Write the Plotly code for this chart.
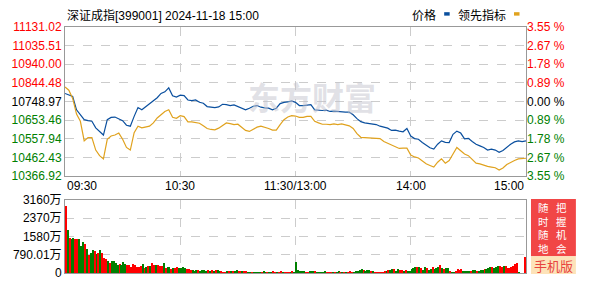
import plotly.graph_objects as go

# ---------------- data ----------------
minutes = list(range(0, 241, 2))  # minutes since 09:30 (trading minutes)

price = [
    10790.6, 10782.2, 10775.0, 10706.8, 10681.6, 10656.5, 10651.5, 10648.1, 10614.6, 10597.8,
    10577.7, 10656.5, 10668.2, 10669.9, 10661.5, 10651.5, 10628.0, 10623.0, 10673.3, 10718.5,
    10706.8, 10723.5, 10735.3, 10752.0, 10768.8, 10790.6, 10799.0, 10819.1, 10778.8, 10772.1,
    10782.2, 10780.0,
    10757.1, 10753.7, 10757.1, 10745.3, 10740.3, 10723.5, 10721.9, 10718.5, 10721.9, 10735.3,
    10733.6, 10728.6, 10731.9, 10723.5, 10718.5, 10706.8, 10715.2, 10725.2, 10728.6, 10720.2,
    10716.8, 10715.2, 10706.8, 10715.2, 10738.6, 10745.3, 10747.0, 10752.0, 10745.0,
    10728.6, 10728.6, 10731.9, 10733.6, 10706.8, 10703.4, 10703.4, 10705.1, 10698.4, 10700.1,
    10698.4, 10693.4, 10695.0, 10695.0, 10681.6, 10661.5, 10646.4, 10639.7, 10636.4, 10631.4,
    10631.4, 10623.0, 10618.0, 10612.9, 10601.2, 10602.9, 10597.8, 10594.5, 10611.2, 10572.7,
    10559.3, 10555.9, 10539.2, 10527.4, 10512.4, 10505.7, 10530.8, 10547.6, 10540.0, 10539.2,
    10581.1, 10597.8, 10587.8, 10557.6, 10561.0, 10544.2, 10530.8, 10522.4, 10514.0, 10500.6,
    10505.7, 10500.6, 10488.9, 10498.9, 10517.4, 10530.8, 10542.5, 10547.6, 10544.2, 10547.6,
]

leading = [
    10824.1, 10807.3, 10765.4, 10685.0, 10648.1, 10547.6, 10564.3, 10564.3, 10500.6, 10472.1,
    10455.4, 10555.9, 10572.7, 10577.7, 10587.8, 10555.9, 10514.0, 10500.6, 10589.5, 10623.0,
    10614.6, 10618.0, 10623.0, 10639.7, 10664.9, 10681.6, 10698.4, 10706.8, 10668.2, 10663.2,
    10676.6, 10672.0,
    10644.8, 10644.8, 10643.1, 10638.1, 10624.7, 10611.2, 10606.2, 10604.5, 10612.9, 10628.0,
    10639.7, 10636.4, 10631.4, 10633.0, 10618.0, 10601.2, 10596.2, 10606.2, 10618.0, 10623.0,
    10618.0, 10611.2, 10602.9, 10602.9, 10631.4, 10656.5, 10669.9, 10676.6, 10674.9,
    10668.2, 10668.2, 10673.3, 10673.3, 10648.1, 10639.7, 10633.0, 10633.0, 10631.4, 10634.7,
    10631.4, 10634.7, 10631.4, 10624.7, 10611.2, 10584.4, 10566.0, 10564.3, 10564.3, 10564.3,
    10561.0, 10559.3, 10544.2, 10535.8, 10529.1, 10517.4, 10509.0, 10510.7, 10510.7, 10475.5,
    10465.4, 10460.4, 10447.0, 10430.2, 10421.9, 10413.5, 10438.6, 10455.4, 10433.6, 10447.0,
    10480.5, 10514.0, 10497.3, 10480.5, 10472.1, 10453.7, 10433.6, 10430.2, 10421.9, 10416.8,
    10413.5, 10410.1, 10398.4, 10408.5, 10426.9, 10438.6, 10447.0, 10455.4, 10455.4, 10458.7,
]

# volume (万), per minute; R = up (red), G = down (green)
vol_am = [
    2917, 1845, 1530, 1459, 1502, 1459, 1459, 1459, 1158, 1330,
    1273, 1030, 801, 887, 987, 944, 829, 887, 987, 887,
    644, 601, 543, 429, 515, 515, 429, 343, 386, 343,
    472, 386, 343, 343, 257, 386, 343, 257, 257, 300,
    386, 215, 257, 300, 300, 429, 343, 343, 343, 300,
    300, 429, 215, 257, 257, 172, 215, 215, 257, 229,
    229, 257, 215, 172, 172, 129, 129, 86, 129, 129,
    86, 129, 129, 86, 114, 86, 129, 86, 114, 129,
    86, 86, 43, 43, 86, 86, 86, 86, 86, 114,
    86, 86, 86, 86, 86, 43, 43, 43, 43, 43,
    43, 43, 43, 86, 43, 43, 43, 43, 86, 43,
    43, 43, 86, 43, 43, 43, 43, 43, 86, 43,
]
dir_am = list(
    "RGRGGRRGGG" "RGRGGRGRGR" "RRGRGGGGRG" "GGRRRRRRRR" "GRGRGRRGRR"
    "RGRGGRGRRG" "GGGRRRGGGR" "GGGGRGRGRG" "GRRRGRGRGG" "RRGRRGGRGG"
    "GGRGGRGGRR" "GRRGRRRGRG"
)
vol_pm = [
    472, 129, 86, 86, 86, 43, 43, 86, 86, 86,
    86, 43, 43, 43, 43, 86, 43, 43, 43, 43,
    43, 43, 86, 43, 43, 43, 43, 43, 86, 43,
    43, 86, 86, 129, 172, 129, 86, 129, 129, 86,
    86, 43, 43, 43, 43, 43, 86, 86, 129, 129,
    172, 172, 86, 172, 129, 129, 86, 129, 86, 86,
    172, 215, 257, 257, 257, 215, 129, 257, 215, 129,
    172, 257, 172, 215, 257, 343, 215, 172, 215, 215,
    86, 43, 43, 86, 172, 129, 172, 86, 86, 86,
    86, 86, 129, 129, 86, 86, 129, 129, 172, 172,
    215, 257, 257, 215, 257, 300, 300, 257, 300, 300,
    215, 215, 257, 300, 386, 429, 43, 0, 0, 686,
]
dir_pm = list(
    "GGGGGRRGGG" "RGGGGGRRRG" "RGGRGRGRRR" "GGGGGRGGGR" "GRRRRRRGRG"
    "GRGGRRGRGG" "GGGRGRGGRG" "GRGGGRGRGG" "RGGRRRRGGG" "GRGGRGGGRG"
    "GGRGGGRRGR" "RRRRRRGGGR"
)

price_ticks = [11131.02, 11035.51, 10940.00, 10844.48, 10748.97,
               10653.46, 10557.94, 10462.43, 10366.92]
pct_labels = ["3.55 %", "2.67 %", "1.78 %", "0.89 %", "0.00 %",
              "0.89 %", "1.78 %", "2.67 %", "3.55 %"]
vol_ticks = [0, 790.01, 1580, 2370, 3160]
vol_labels = ["0", "790.01万", "1580万", "2370万", "3160万"]
time_ticks = [0, 60, 120, 180, 240]
time_labels = ["09:30", "10:30", "11:30/13:00", "14:00", "15:00"]

# ---------------- styling ----------------
W, H = 592, 292
PL, PR, PT, PB = 64, 526, 27, 276
BLUE = "#0a4f9e"
ORANGE = "#e0a21e"
RED = "#ff0000"
GREEN = "#008000"
GRID = "#cccccc"
FRAME = "#999999"
FONT = "Liberation Sans, Arial, Noto Sans CJK SC"
CJK = "Liberation Sans, Noto Sans CJK SC"


def px(x):
    return (x - PL) / (PR - PL)


def py(y):
    return (PB - y) / (PB - PT)


def lab_color(i):
    return RED if i < 4 else ("#000000" if i == 4 else GREEN)


left_text = [f'<span style="color:{lab_color(i)}">{v:.2f}</span>'
             for i, v in enumerate(price_ticks)]
right_text = [f'<span style="color:{lab_color(i)}">{t}</span>'
              for i, t in enumerate(pct_labels)]

vols = vol_am + vol_pm
dirs = dir_am + dir_pm
bar_x = [i + 0.5 for i in range(len(vols))]
bar_colors = [RED if d == "R" else GREEN for d in dirs]

fig = go.Figure()
fig.add_trace(go.Bar(x=bar_x, y=vols, marker=dict(color=bar_colors, line=dict(width=0)),
                     width=0.72, xaxis="x2", yaxis="y2", showlegend=False, hoverinfo="skip"))
fig.add_trace(go.Scatter(x=minutes, y=leading, mode="lines", name="领先指标",
                         line=dict(color=ORANGE, width=1.2), xaxis="x", yaxis="y3",
                         showlegend=False))
fig.add_trace(go.Scatter(x=minutes, y=price, mode="lines", name="价格",
                         line=dict(color=BLUE, width=1.2), xaxis="x", yaxis="y",
                         showlegend=False))

xcommon = dict(range=[0, 240], tickvals=time_ticks[1:4], showticklabels=False,
               showgrid=True, gridcolor=GRID, griddash="dash", gridwidth=1,
               showline=True, linecolor=FRAME, linewidth=1, mirror=True,
               zeroline=False, ticks="", fixedrange=True)

yr = [price_ticks[-1], price_ticks[0]]
fig.update_layout(
    width=W, height=H,
    margin=dict(l=PL, r=W - PR, t=PT, b=H - PB, pad=0),
    paper_bgcolor="white", plot_bgcolor="white",
    showlegend=False,
    bargap=0,
    font=dict(family=FONT, size=12, color="#000000"),
    xaxis=dict(domain=[0, 1], anchor="y", **xcommon),
    xaxis2=dict(domain=[0, 1], anchor="y2", **xcommon),
    yaxis=dict(domain=[py(178), 1], range=yr, tickvals=price_ticks, ticktext=left_text,
               showgrid=True, gridcolor=GRID, griddash="dash", gridwidth=1,
               showline=True, linecolor=FRAME, linewidth=1, mirror=True,
               zeroline=False, ticks="", tickfont=dict(family=FONT, size=12), fixedrange=True),
    yaxis3=dict(overlaying="y", side="right", anchor="x", range=yr, tickvals=price_ticks,
                ticktext=right_text, showgrid=False, showline=False, zeroline=False,
                ticks="", tickfont=dict(family=FONT, size=12), fixedrange=True),
    yaxis2=dict(domain=[0, py(202)], anchor="x2", range=[0, 3160], tickvals=vol_ticks,
                ticktext=vol_labels, showgrid=True, gridcolor=GRID, griddash="dash",
                gridwidth=1, showline=True, linecolor=FRAME, linewidth=1, mirror=True,
                zeroline=False, ticks="", tickfont=dict(family=CJK, size=12), fixedrange=True),
)

ann = []
# title
ann.append(dict(text="深证成指[399001] 2024-11-18 15:00", xref="paper", yref="paper",
                x=px(64), y=py(15), xanchor="left", yanchor="middle", showarrow=False,
                font=dict(family=CJK, size=12, color="#000")))
# legend texts
ann.append(dict(text="价格", xref="paper", yref="paper", x=px(438), y=py(15),
                xanchor="right", yanchor="middle", showarrow=False,
                font=dict(family=CJK, size=12, color="#000")))
ann.append(dict(text="领先指标", xref="paper", yref="paper", x=px(508), y=py(15),
                xanchor="right", yanchor="middle", showarrow=False,
                font=dict(family=CJK, size=12, color="#000")))
# time labels
for tv, tl in zip(time_ticks, time_labels):
    anc = "left" if tv == time_ticks[0] else ("right" if tv == time_ticks[-1] else "center")
    ann.append(dict(text=tl, xref="x", yref="paper", x=tv, y=py(188), xanchor=anc,
                    yanchor="middle", showarrow=False,
                    font=dict(family=FONT, size=12, color="#000")))
# watermark
ann.append(dict(text="<b>东方财富</b>", xref="paper", yref="paper", x=px(312), y=py(97),
                xanchor="center", yanchor="middle", showarrow=False,
                font=dict(family="Noto Sans CJK SC", size=32, color="rgba(195,195,205,0.5)")))
# side banner text (two vertical columns)
col_left = ["随", "时", "随", "地"]
col_right = ["把", "握", "机", "会"]
for col, cx in ((col_left, 544), (col_right, 561.5)):
    ann.append(dict(text="<br>".join(col), xref="paper", yref="paper", x=px(cx), y=py(230),
                    xanchor="center", yanchor="middle", showarrow=False, borderpad=0,
                    font=dict(family="Noto Sans CJK SC", size=10.5, color="#ffffff")))
ann.append(dict(text="手机版", xref="paper", yref="paper", x=px(553.5), y=py(268),
                xanchor="center", yanchor="middle", showarrow=False, borderpad=0,
                font=dict(family="Noto Sans CJK SC", size=13, color="#e8443f")))

shapes = [
    dict(type="rect", xref="paper", yref="paper", x0=px(444), x1=px(449.5), y0=py(15.5), y1=py(12),
         fillcolor=BLUE, line=dict(width=0)),
    dict(type="rect", xref="paper", yref="paper", x0=px(514), x1=px(519.5), y0=py(15.5), y1=py(12),
         fillcolor=ORANGE, line=dict(width=0)),
    dict(type="rect", xref="paper", yref="paper", x0=px(531), x1=px(576), y0=py(259), y1=py(201),
         fillcolor="#f14646", line=dict(width=0)),
    dict(type="rect", xref="paper", yref="paper", x0=px(531), x1=px(576), y0=py(277), y1=py(259),
         fillcolor="#fde3b9", line=dict(width=0)),
]
fig.update_layout(annotations=ann, shapes=shapes)

fig.write_html("out.html", config={"displayModeBar": False})
